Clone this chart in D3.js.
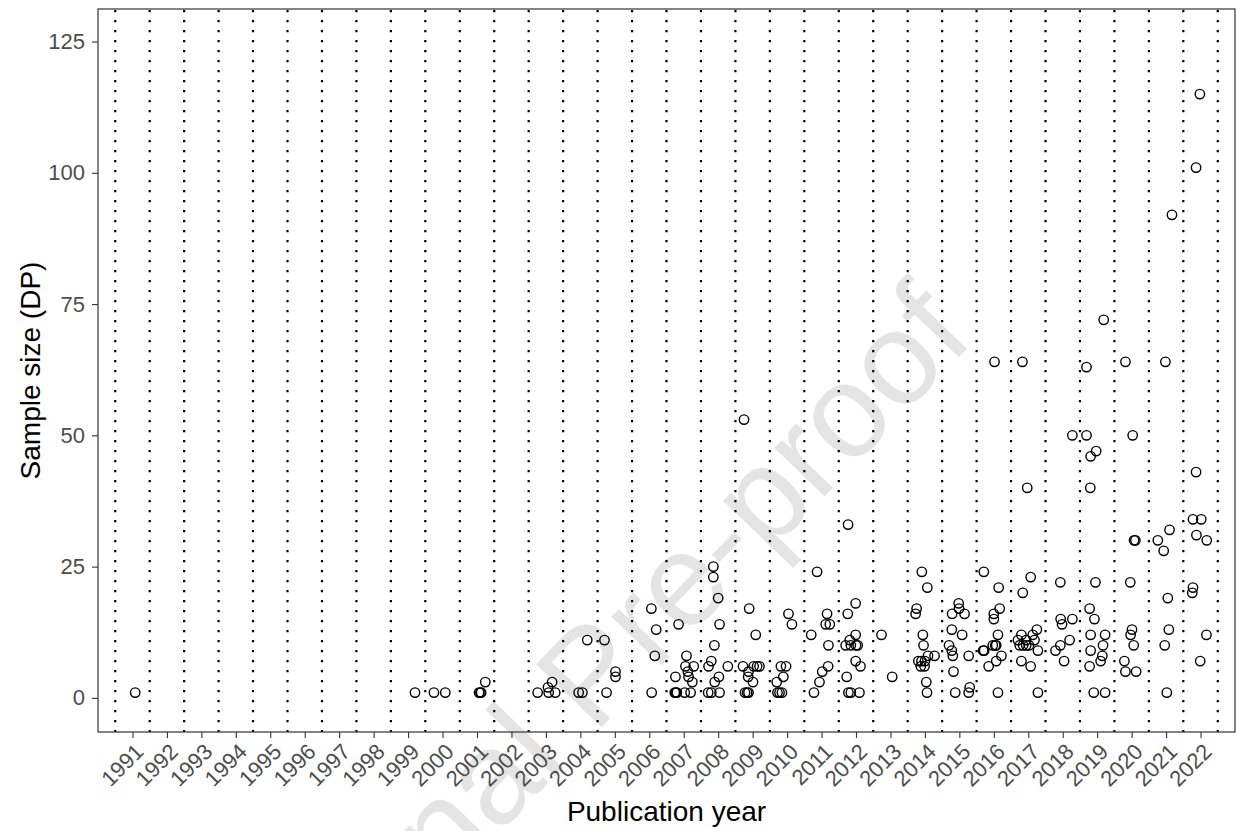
<!DOCTYPE html>
<html>
<head>
<meta charset="utf-8">
<script src="https://cdn.jsdelivr.net/npm/d3@7"></script>
<style>
  body { margin: 0; background: #fff; }
  svg { display: block; font-family: "Liberation Sans", Arial, sans-serif; }
</style>
</head>
<body>
<div class="graphContainer"></div>
<script>
// canvas and margins
const w = 1238;
const h = 831;
const m = {top: 9, right: 3, bottom: 99, left: 98};

// years on the axis
const years = d3.range(1991, 2023);
const yTicks = [0, 25, 50, 75, 100, 125];

// publication year as plotted (jittered inside its year) and sample size, one row per year
const pubYear = [
  1991.08,
  1999.2, 1999.75, 2000.08,
  2001.06, 2001.1, 2001.12, 2001.24,
  2002.76, 2003.06, 2003.18, 2003.08, 2003.27,
  2003.95, 2004.06, 2004.2,
  2004.7, 2004.76, 2005.02, 2005.02,
  2006.06, 2006.2, 2006.16, 2006.07,
  2006.85, 2006.74, 2006.77, 2006.8, 2007.03, 2007.2, 2006.76, 2007.08, 2007.05, 2007.29, 2007.12, 2007.14, 2007.25,
  2007.86, 2007.86, 2008.0, 2008.04, 2007.89, 2007.8, 2007.72, 2008.28, 2008.02, 2007.9, 2007.71, 2007.8, 2008.04,
  2008.75, 2008.9, 2009.09, 2008.72, 2009.03, 2009.13, 2009.2, 2008.88, 2008.87, 2009.01, 2008.78, 2008.84, 2008.88,
  2010.04, 2010.14, 2009.82, 2009.97, 2009.89, 2009.7, 2009.72, 2009.78, 2009.85,
  2010.87, 2010.7, 2011.19, 2011.02, 2010.94, 2010.78, 2011.16, 2011.12, 2011.24, 2011.2,
  2011.77, 2011.99, 2011.76, 2011.99, 2011.82, 2011.7, 2011.85, 2012.0, 2012.05, 2011.99, 2012.13, 2011.73, 2011.78, 2011.85, 2012.1,
  2012.74, 2013.05,
  2013.91, 2014.07, 2013.76, 2013.73, 2013.94, 2013.96, 2014.09, 2014.28, 2013.81, 2013.9, 2014.0, 2013.88, 2013.99, 2014.04, 2014.06,
  2014.98, 2014.99, 2014.79, 2015.15, 2014.78, 2015.08, 2014.7, 2014.78, 2014.81, 2015.27, 2014.83, 2014.88, 2015.27, 2015.3,
  2016.02, 2015.71, 2016.14, 2016.17, 2016.0, 2016.0, 2016.12, 2015.97, 2016.04, 2016.07, 2015.69, 2015.72, 2016.22, 2016.07, 2015.85, 2016.12,
  2016.83, 2016.97, 2017.07, 2016.84, 2017.25, 2016.8, 2017.13, 2016.7, 2016.94, 2017.18, 2016.75, 2016.85, 2016.94, 2017.02, 2017.28, 2016.8, 2017.07, 2017.28,
  2018.28, 2017.93, 2017.94, 2017.98, 2018.28, 2018.2, 2017.93, 2017.79, 2018.04,
  2018.69, 2018.69, 2019.19, 2018.81, 2018.97, 2018.8, 2018.95, 2018.78, 2018.92, 2018.81, 2019.23, 2019.17, 2018.81, 2019.15, 2019.1, 2018.78, 2018.9, 2019.23,
  2019.82, 2020.03, 2020.07, 2020.11, 2019.96, 2020.01, 2019.97, 2020.06, 2019.79, 2019.82, 2020.13,
  2020.98, 2021.17, 2020.76, 2021.1, 2020.93, 2021.05, 2021.08, 2020.96, 2021.02,
  2021.98, 2021.87, 2021.87, 2021.78, 2022.02, 2021.88, 2022.18, 2021.78, 2021.76, 2022.17, 2021.99
];
const sampleSize = [
  1,
  1, 1, 1,
  1, 1, 1, 3,
  1, 2, 3, 1, 1,
  1, 1, 11,
  11, 1, 5, 4,
  17, 13, 8, 1,
  14, 1, 1, 1, 1, 1, 4, 8, 6, 6, 5, 4, 3,
  25, 23, 19, 14, 10, 7, 6, 6, 4, 3, 1, 1, 1,
  53, 17, 12, 6, 6, 6, 6, 5, 4, 3, 1, 1, 1,
  16, 14, 6, 6, 4, 3, 1, 1, 1,
  24, 12, 6, 5, 3, 1, 16, 14, 14, 10,
  33, 18, 16, 12, 11, 10, 10, 10, 10, 7, 6, 4, 1, 1, 1,
  12, 4,
  24, 21, 17, 16, 12, 10, 8, 8, 7, 7, 7, 6, 6, 3, 1,
  18, 17, 16, 16, 13, 12, 10, 9, 8, 8, 5, 1, 1, 2,
  64, 24, 21, 17, 16, 15, 12, 10, 10, 10, 9, 9, 8, 7, 6, 1,
  64, 40, 23, 20, 13, 12, 12, 11, 11, 11, 10, 10, 10, 10, 9, 7, 6, 1,
  50, 22, 15, 14, 15, 11, 10, 9, 7,
  63, 50, 72, 46, 47, 40, 22, 17, 15, 12, 12, 10, 9, 8, 7, 6, 1, 1,
  64, 50, 30, 30, 22, 13, 12, 10, 7, 5, 5,
  64, 92, 30, 32, 28, 19, 13, 10, 1,
  115, 101, 43, 34, 34, 31, 30, 21, 20, 12, 7
];

const svg = d3.select(".graphContainer").append("svg")
  .attr("width", w)
  .attr("height", h);

const xScale = d3.scaleLinear()
  .domain([1990, 2023])
  .range([m.left, w - m.right]);

const yScale = d3.scaleLinear()
  .domain([-6.5, 131.2])
  .range([h - m.bottom, m.top]);

// watermark behind everything
svg.append("text")
  .attr("class", "watermark")
  .attr("transform", "translate(622,706) rotate(-46)")
  .attr("text-anchor", "middle")
  .style("font-size", "132px")
  .style("fill", "#e4e4e4")
  .text("Journal Pre-proof");

// dotted separators between years
svg.append("g")
  .selectAll("line")
  .data(d3.range(1990.5, 2023, 1))
  .enter()
  .append("line")
  .attr("x1", d => xScale(d))
  .attr("x2", d => xScale(d))
  .attr("y1", m.top + 1)
  .attr("y2", h - m.bottom)
  .attr("stroke", "#000")
  .attr("stroke-width", 2.2)
  .attr("stroke-dasharray", "2.2,7.8");

// points
svg.append("g")
  .selectAll("circle")
  .data(pubYear)
  .enter()
  .append("circle")
  .attr("cx", d => xScale(d))
  .attr("cy", (d, i) => yScale(sampleSize[i]))
  .attr("r", 4.7)
  .attr("fill", "none")
  .attr("stroke", "#000")
  .attr("stroke-width", 1.4);

// axes
const yAxis = d3.axisLeft(yScale)
  .tickValues(yTicks)
  .tickSize(6)
  .tickPadding(7);

const xAxis = d3.axisBottom(xScale)
  .tickValues(years)
  .tickFormat(d3.format("d"))
  .tickSize(6);

const gy = svg.append("g")
  .attr("transform", "translate(" + m.left + ",0)")
  .call(yAxis);

const gx = svg.append("g")
  .attr("transform", "translate(0," + (h - m.bottom) + ")")
  .call(xAxis);

[gx, gy].forEach(g => {
  g.select(".domain").remove();
  g.selectAll(".tick line").attr("stroke", "#333").attr("stroke-width", 1.1);
  g.selectAll(".tick text")
    .style("font-size", "22px")
    .style("font-family", "'Liberation Sans', Arial, sans-serif")
    .attr("fill", "#4d4d4d");
});

gx.selectAll(".tick text")
  .attr("y", null)
  .attr("x", 0)
  .attr("dy", "0.71em")
  .attr("text-anchor", "end")
  .attr("transform", "translate(1,10) rotate(-45)");

// panel border
svg.append("rect")
  .attr("x", m.left)
  .attr("y", m.top)
  .attr("width", w - m.left - m.right)
  .attr("height", h - m.top - m.bottom)
  .attr("fill", "none")
  .attr("stroke", "#333")
  .attr("stroke-width", 1.2);

// axis titles
svg.append("text")
  .attr("x", (m.left + w - m.right) / 2)
  .attr("y", 821)
  .attr("text-anchor", "middle")
  .style("font-size", "28px")
  .text("Publication year");

svg.append("text")
  .attr("transform", "translate(40," + ((m.top + h - m.bottom) / 2) + ") rotate(-90)")
  .attr("text-anchor", "middle")
  .style("font-size", "28px")
  .text("Sample size (DP)");
</script>
</body>
</html>
